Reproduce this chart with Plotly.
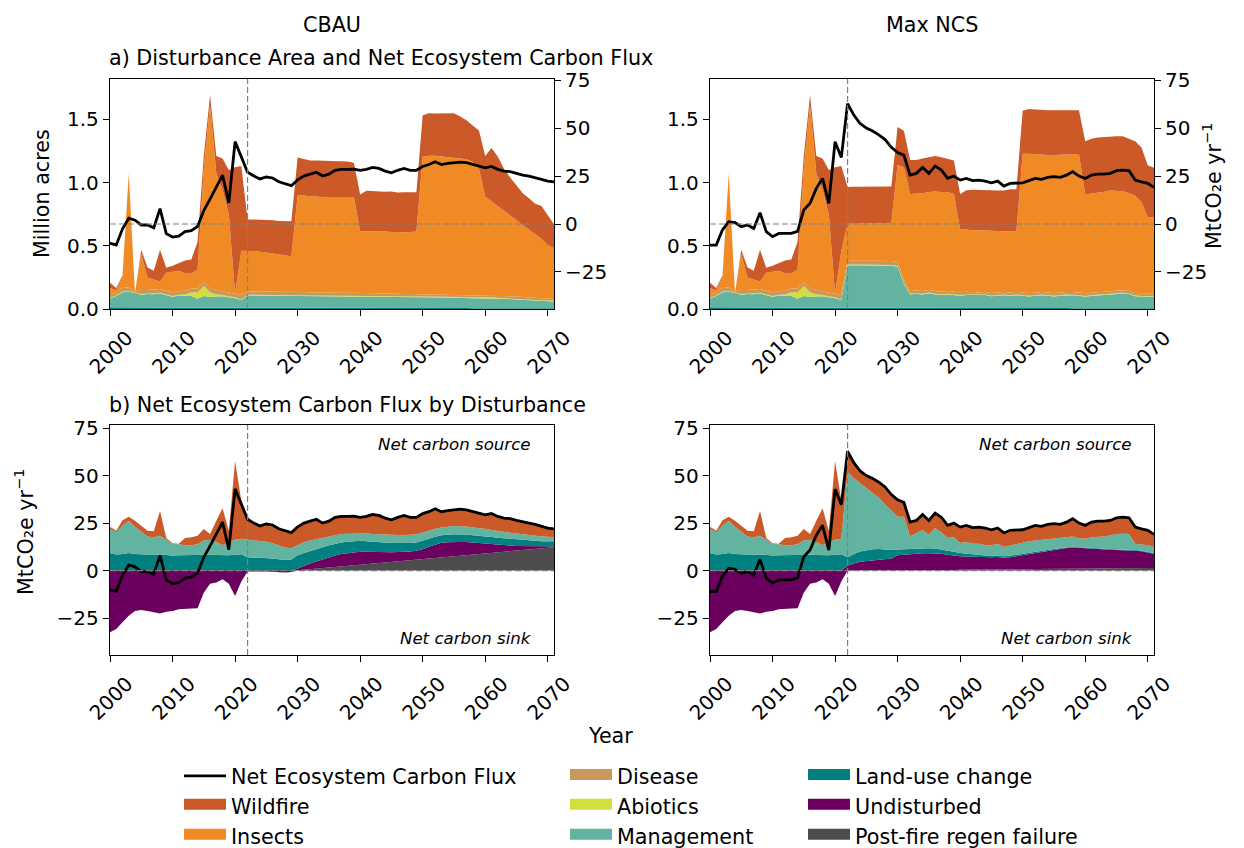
import numpy as np
import plotly.graph_objects as go

W, H = 1244, 848
YEARS = list(range(2000, 2072))

# ---------------- colours ----------------
C_FIRE = "#cb5a28"
C_INSECT = "#f08a24"
C_DISEASE = "#c8975a"
C_ABIO = "#d3df3c"
C_MGMT = "#62b4a1"
C_LUC = "#008080"
C_UNDIST = "#6b005f"
C_REGEN = "#4e4b4f"

# ---------------- (a) disturbance area, million acres ----------------
# historical 2000-2021 (shared by both scenarios)
hist_area_luc = [0.013, 0.012, 0.013, 0.012, 0.012, 0.012, 0.013, 0.012, 0.012, 0.012,
                 0.012, 0.011, 0.012, 0.012, 0.011, 0.012, 0.012, 0.011, 0.011, 0.012,
                 0.011, 0.011]
hist_area_mgmt = [0.070, 0.090, 0.120, 0.125, 0.115, 0.100, 0.105, 0.105, 0.110, 0.100,
                  0.085, 0.095, 0.090, 0.090, 0.070, 0.090, 0.085, 0.090, 0.090, 0.080,
                  0.075, 0.060]
hist_area_abio = [0.004, 0.004, 0.005, 0.005, 0.000, 0.006, 0.005, 0.005, 0.006, 0.005,
                  0.005, 0.006, 0.012, 0.030, 0.050, 0.080, 0.035, 0.015, 0.010, 0.008,
                  0.006, 0.005]
hist_area_disease = [0.030, 0.020, 0.030, 0.030, 0.000, 0.040, 0.035, 0.030, 0.030, 0.030,
                     0.030, 0.030, 0.030, 0.030, 0.030, 0.030, 0.030, 0.035, 0.030, 0.030,
                     0.030, 0.035]
hist_area_insects = [0.05, 0.02, 0.09, 0.90, 0.00, 0.28, 0.09, 0.08, 0.06, 0.14,
                     0.16, 0.16, 0.14, 0.12, 0.15, 0.90, 1.45, 0.92, 0.80, 0.62,
                     0.00, 0.35]
hist_area_fire = [0.04, 0.02, 0.01, 0.00, 0.00, 0.03, 0.08, 0.07, 0.25, 0.04,
                  0.05, 0.06, 0.10, 0.11, 0.22, 0.10, 0.08, 0.14, 0.25, 0.35,
                  1.00, 0.67]

# CBAU 2022-2071
cbau_area_luc = [0.009, 0.009, 0.009, 0.009, 0.009, 0.009, 0.009, 0.009,
                 0.009, 0.009, 0.008, 0.008, 0.008, 0.008, 0.008, 0.008, 0.008, 0.008,
                 0.008, 0.008, 0.008, 0.008, 0.008, 0.008, 0.007, 0.007, 0.007, 0.007,
                 0.007, 0.007, 0.007, 0.007, 0.007, 0.007, 0.007, 0.007, 0.006, 0.006,
                 0.006, 0.006, 0.006, 0.006, 0.006, 0.006, 0.006, 0.006, 0.006, 0.006,
                 0.006, 0.006]
cbau_area_mgmt = [0.098, 0.098, 0.097, 0.097, 0.097, 0.096, 0.096, 0.095,
                  0.094, 0.094, 0.093, 0.093, 0.092, 0.092, 0.091, 0.091, 0.090, 0.090,
                  0.089, 0.089, 0.089, 0.088, 0.088, 0.088, 0.087, 0.087, 0.087, 0.086,
                  0.086, 0.086, 0.085, 0.085, 0.085, 0.084, 0.084, 0.083, 0.083, 0.082,
                  0.081, 0.080, 0.078, 0.076, 0.073, 0.070, 0.067, 0.064, 0.061, 0.058,
                  0.056, 0.054]
cbau_area_abio = [0.006, 0.006, 0.006, 0.006, 0.006, 0.006, 0.006, 0.006,
                  0.006, 0.006, 0.006, 0.006, 0.006, 0.006, 0.006, 0.006, 0.006, 0.006,
                  0.006, 0.006, 0.005, 0.005, 0.005, 0.005, 0.005, 0.005, 0.005, 0.005,
                  0.005, 0.005, 0.005, 0.005, 0.005, 0.005, 0.005, 0.005, 0.005, 0.005,
                  0.005, 0.005, 0.005, 0.005, 0.005, 0.005, 0.005, 0.005, 0.005, 0.005,
                  0.005, 0.005]
cbau_area_disease = [0.026, 0.026, 0.026, 0.025, 0.025, 0.025, 0.025, 0.025,
                     0.025, 0.025, 0.024, 0.024, 0.024, 0.024, 0.024, 0.023, 0.023, 0.023,
                     0.023, 0.023, 0.022, 0.022, 0.022, 0.022, 0.021, 0.021, 0.021, 0.021,
                     0.021, 0.020, 0.020, 0.020, 0.020, 0.020, 0.019, 0.019, 0.019, 0.019,
                     0.018, 0.018, 0.018, 0.018, 0.017, 0.017, 0.017, 0.016, 0.016, 0.016,
                     0.015, 0.015]
cbau_area_insects = [0.32, 0.32, 0.315, 0.31, 0.305, 0.30, 0.29, 0.28,
                     0.765, 0.765, 0.76, 0.76, 0.755, 0.757, 0.758, 0.76, 0.76, 0.76,
                     0.49, 0.49, 0.49, 0.49, 0.49, 0.487, 0.487, 0.488, 0.49, 0.495,
                     1.085, 1.095, 1.095, 1.09, 1.085, 1.077, 1.078, 1.07, 1.05, 1.0,
                     0.78, 0.745, 0.71, 0.675, 0.64, 0.605, 0.57, 0.535, 0.505, 0.47,
                     0.425, 0.40]
cbau_area_fire = [0.25, 0.25, 0.255, 0.255, 0.26, 0.26, 0.27, 0.28,
                  0.30, 0.29, 0.285, 0.285, 0.29, 0.285, 0.285, 0.28, 0.28, 0.27,
                  0.29, 0.32, 0.32, 0.315, 0.315, 0.32, 0.315, 0.315, 0.315, 0.31,
                  0.33, 0.335, 0.335, 0.34, 0.345, 0.355, 0.33, 0.31, 0.29, 0.30,
                  0.32, 0.42, 0.39, 0.33, 0.30, 0.27, 0.25, 0.25, 0.24, 0.26,
                  0.23, 0.19]

# Max NCS 2022-2071
mncs_area_luc = [0.009, 0.009, 0.009, 0.009, 0.009, 0.009, 0.009, 0.009,
                 0.009, 0.009, 0.008, 0.008, 0.008, 0.008, 0.008, 0.008, 0.008, 0.008,
                 0.008, 0.008, 0.008, 0.008, 0.008, 0.008, 0.007, 0.007, 0.007, 0.007,
                 0.007, 0.007, 0.007, 0.007, 0.007, 0.007, 0.007, 0.007, 0.006, 0.006,
                 0.006, 0.006, 0.006, 0.006, 0.006, 0.006, 0.006, 0.006, 0.006, 0.006,
                 0.006, 0.006]
mncs_area_mgmt = [0.335, 0.337, 0.337, 0.336, 0.336, 0.335, 0.334, 0.333,
                  0.325, 0.190, 0.107, 0.112, 0.107, 0.117, 0.107, 0.102, 0.107, 0.102,
                  0.097, 0.102, 0.102, 0.097, 0.102, 0.092, 0.097, 0.102, 0.097, 0.102,
                  0.097, 0.092, 0.097, 0.102, 0.097, 0.092, 0.097, 0.102, 0.102, 0.097,
                  0.092, 0.097, 0.102, 0.107, 0.112, 0.117, 0.117, 0.112, 0.095, 0.092,
                  0.092, 0.092]
mncs_area_abio = [0.007, 0.007, 0.007, 0.007, 0.007, 0.007, 0.007, 0.007,
                  0.007, 0.007, 0.005, 0.005, 0.005, 0.005, 0.005, 0.005, 0.005, 0.005,
                  0.005, 0.005, 0.005, 0.005, 0.005, 0.005, 0.005, 0.005, 0.005, 0.005,
                  0.005, 0.005, 0.005, 0.005, 0.005, 0.005, 0.005, 0.005, 0.005, 0.005,
                  0.005, 0.005, 0.005, 0.005, 0.005, 0.005, 0.005, 0.005, 0.005, 0.005,
                  0.005, 0.005]
mncs_area_disease = [0.030, 0.030, 0.030, 0.030, 0.030, 0.030, 0.030, 0.030,
                     0.030, 0.030, 0.022, 0.022, 0.022, 0.022, 0.022, 0.022, 0.022, 0.022,
                     0.022, 0.022, 0.021, 0.021, 0.021, 0.021, 0.021, 0.021, 0.021, 0.021,
                     0.021, 0.021, 0.021, 0.021, 0.021, 0.021, 0.021, 0.021, 0.021, 0.021,
                     0.021, 0.021, 0.021, 0.021, 0.021, 0.021, 0.021, 0.021, 0.021, 0.021,
                     0.021, 0.021]
mncs_area_insects = [0.294, 0.294, 0.294, 0.295, 0.296, 0.297, 0.299, 0.301,
                     0.770, 0.885, 0.768, 0.763, 0.773, 0.773, 0.788, 0.788, 0.783, 0.773,
                     0.498, 0.493, 0.488, 0.493, 0.483, 0.493, 0.488, 0.481, 0.484, 0.483,
                     1.098, 1.103, 1.093, 1.088, 1.088, 1.093, 1.088, 1.088, 1.093, 1.098,
                     0.783, 0.783, 0.788, 0.788, 0.793, 0.788, 0.783, 0.773, 0.770, 0.723,
                     0.603, 0.603]
mncs_area_fire = [0.29, 0.29, 0.29, 0.291, 0.29, 0.29, 0.289, 0.289,
                  0.30, 0.29, 0.27, 0.27, 0.275, 0.275, 0.28, 0.275, 0.265, 0.265,
                  0.28, 0.31, 0.32, 0.32, 0.32, 0.32, 0.32, 0.322, 0.334, 0.33,
                  0.34, 0.355, 0.355, 0.35, 0.355, 0.355, 0.355, 0.35, 0.35, 0.345,
                  0.42, 0.435, 0.435, 0.435, 0.43, 0.43, 0.435, 0.43, 0.43, 0.43,
                  0.41, 0.39]

# ---------------- net ecosystem carbon flux, MtCO2e/yr ----------------
cbau_net = [-10.0, -11.0, -2.5, 3.0, 2.0, -0.5, -0.5, -2.0, 8.0, -5.0,
            -6.8, -6.3, -4.0, -3.5, -1.3, 7.0, 13.0, 19.0, 25.5, 11.0,
            43.0, 35.0,
            27.0, 25.0, 23.5, 24.5, 24.0, 22.0, 21.0, 20.0,
            23.0, 25.0, 26.0, 27.0, 25.0, 26.0, 28.0, 28.5, 28.5, 28.6,
            28.0, 28.5, 29.5, 29.0, 27.6, 26.7, 28.0, 29.0, 28.0, 28.0,
            30.0, 31.0, 32.5, 31.0, 31.6, 32.0, 32.3, 32.0, 31.0, 30.0,
            29.3, 30.0, 28.5, 27.6, 27.3, 26.4, 25.5, 25.0, 24.3, 23.3,
            22.4, 22.0]
mncs_net = [-11.0, -11.0, -3.0, 1.2, 0.7, -1.4, -0.5, -2.3, 5.9, -4.0,
            -6.6, -4.9, -4.9, -4.9, -3.8, 7.3, 10.8, 18.6, 23.8, 10.8,
            42.9, 34.7,
            62.8, 56.8, 52.4, 50.0, 48.5, 46.5, 44.0, 40.0,
            37.2, 35.9, 25.5, 26.4, 29.5, 26.4, 30.2, 28.1, 23.8, 25.0,
            22.9, 23.8, 22.6, 22.9, 22.4, 21.5, 22.4, 19.8, 21.2, 21.5,
            21.5, 22.6, 23.8, 23.3, 24.3, 24.7, 24.3, 25.5, 27.3, 25.0,
            23.8, 25.5, 26.0, 26.0, 26.4, 27.8, 28.1, 27.8, 22.9, 22.0,
            21.2, 19.1]

# ---------------- (b) flux by disturbance, MtCO2e/yr ----------------
hist_flux_regen = [0.0, 0.0, 0.0, 0.0, 0.0, 0.0, 0.0, 0.0, 0.0, 0.0,
                   0.0, 0.0, 0.0, 0.0, 0.0, 0.0, 0.0, 0.0, 0.0, 0.0,
                   0.0, 0.0]
hist_flux_undist = [-32.4, -30.7, -27.2, -23.8, -21.2, -20.7, -21.2, -22.1, -22.6, -21.7,
                    -21.2, -20.3, -20.0, -20.0, -19.8, -11.7, -6.9, -6.2, -4.5, -6.9,
                    -13.4, -5.7]
hist_flux_luc = [9.2, 8.5, 8.8, 9.2, 8.8, 8.6, 8.4, 8.3, 8.5, 8.2,
                 8.0, 8.1, 8.2, 8.3, 8.3, 8.5, 8.4, 8.2, 8.0, 8.1,
                 8.4, 8.6]
hist_flux_mgmt = [12.7, 11.7, 14.8, 17.0, 14.3, 12.1, 9.5, 9.3, 9.9, 8.0,
                  6.1, 5.7, 5.1, 5.0, 5.5, 7.4, 7.8, 6.8, 5.3, 6.9,
                  7.8, 8.1]
hist_flux_fire = [1.2, 0.8, 2.9, 2.1, 3.1, 2.9, 3.1, 3.1, 13.0, 1.0,
                  0.3, 0.3, 3.9, 4.3, 4.6, 6.0, 3.1, 11.2, 19.5, 6.0,
                  41.4, 19.9]

cbau_flux_regen = [0.0, 0.0, 0.0, 0.0, 0.0, 0.0, 0.0, 0.0,
                   0.2, 0.5, 0.8, 1.0, 1.3, 1.6, 2.0, 2.3, 2.5, 2.8,
                   3.2, 3.5, 3.7, 4.0, 4.4, 4.7, 5.0, 5.2, 5.5, 5.9,
                   6.2, 6.5, 6.8, 7.1, 7.3, 7.7, 8.0, 8.3, 8.5, 8.9,
                   9.2, 9.5, 9.7, 10.0, 10.4, 10.7, 11.0, 11.2, 11.5, 11.8,
                   12.1, 12.3]
cbau_flux_undist = [-0.5, -0.4, -0.4, -0.5, -0.6, -0.8, -1.0, -0.8,
                    0.9, 2.0, 3.0, 3.8, 4.6, 5.4, 6.0, 6.4, 6.7, 6.8,
                    6.7, 6.4, 6.1, 5.8, 5.4, 5.0, 4.8, 4.6, 4.5, 4.5,
                    5.0, 6.0, 7.0, 7.6, 7.6, 7.4, 7.1, 6.8, 6.3, 5.6,
                    4.9, 4.3, 3.8, 3.3, 2.8, 2.3, 1.9, 1.6, 1.2, 0.9,
                    0.7, 0.5]
cbau_flux_luc = [7.0, 6.9, 6.8, 6.6, 6.4, 6.0, 5.6, 5.8,
                 7.0, 6.8, 6.6, 6.5, 6.4, 6.3, 6.2, 6.1, 6.0, 5.9,
                 5.8, 5.6, 5.4, 5.2, 5.0, 4.8, 4.7, 4.6, 4.5, 4.4,
                 4.4, 4.2, 4.0, 3.9, 3.9, 4.0, 3.9, 3.9, 3.8, 3.9,
                 4.0, 3.9, 3.8, 3.7, 3.6, 3.5, 3.3, 3.1, 3.0, 2.8,
                 2.7, 2.6]
cbau_flux_mgmt = [9.1, 9.0, 8.8, 8.6, 8.0, 7.3, 6.6, 6.0,
                  5.3, 5.6, 5.5, 5.3, 5.1, 4.8, 4.6, 4.4, 4.2, 4.0,
                  3.9, 4.0, 4.1, 4.1, 4.1, 4.1, 4.2, 4.2, 4.2, 4.3,
                  4.3, 4.3, 4.2, 4.1, 4.2, 4.4, 4.3, 4.2, 4.1, 4.0,
                  3.9, 3.7, 3.5, 3.3, 3.1, 3.0, 2.8, 2.7, 2.6, 2.5,
                  2.4, 2.3]
cbau_flux_fire = [10.9, 9.1, 7.9, 9.3, 9.6, 8.7, 8.8, 8.2,
                  9.6, 10.1, 10.1, 10.4, 7.6, 7.9, 9.2, 9.3, 9.1, 9.1,
                  8.4, 9.0, 10.2, 9.9, 8.7, 8.1, 9.3, 10.4, 9.3, 8.9,
                  10.1, 10.0, 10.5, 8.3, 8.6, 8.5, 9.0, 8.8, 8.3, 7.6,
                  7.3, 8.6, 7.7, 7.3, 7.4, 6.9, 6.5, 6.4, 6.0, 5.3,
                  4.5, 4.3]

mncs_flux_regen = [0.0, 0.0, 0.0, 0.0, 0.0, 0.0, 0.0, 0.0,
                   0.05, 0.1, 0.1, 0.15, 0.2, 0.2, 0.25, 0.3, 0.3, 0.35,
                   0.4, 0.4, 0.45, 0.5, 0.5, 0.55, 0.6, 0.6, 0.65, 0.7,
                   0.7, 0.75, 0.8, 0.8, 0.85, 0.9, 0.9, 0.95, 1.0, 1.0,
                   1.05, 1.1, 1.1, 1.15, 1.2, 1.2, 1.25, 1.3, 1.3, 1.35,
                   1.4, 1.4]
mncs_flux_undist = [2.5, 3.8, 4.6, 5.0, 5.2, 5.5, 5.9, 6.4,
                    8.0, 8.3, 8.5, 8.6, 8.9, 8.9, 8.9, 8.6, 8.0, 7.5,
                    7.1, 7.0, 6.8, 6.6, 6.5, 6.5, 6.6, 6.2, 6.4, 6.9,
                    7.6, 8.2, 8.8, 9.3, 9.7, 10.1, 10.5, 10.9, 11.2, 11.0,
                    10.7, 10.3, 10.2, 10.0, 9.8, 9.6, 9.5, 9.4, 9.2, 8.8,
                    8.3, 7.5]
mncs_flux_luc = [4.5, 5.0, 5.5, 5.8, 6.0, 5.8, 5.2, 4.4,
                 3.0, 2.8, 2.6, 2.8, 2.7, 2.6, 2.5, 2.3, 2.1, 2.1,
                 1.8, 1.5, 1.3, 1.1, 1.0, 0.9, 0.8, 0.8, 0.7, 0.7,
                 0.6, 0.5, 0.5, 0.4, 0.4, 0.4, 0.4, 0.4, 0.3, 0.3,
                 0.3, 0.3, 0.3, 0.3, 0.3, 0.3, 0.3, 0.3, 0.3, 0.3,
                 0.3, 0.3]
mncs_flux_mgmt = [45.0, 39.8, 35.9, 32.6, 29.7, 27.0, 23.7, 20.6,
                  17.3, 17.1, 6.7, 8.2, 9.6, 7.3, 10.8, 9.0, 6.8, 7.6,
                  5.2, 6.1, 5.6, 5.9, 5.3, 5.4, 6.1, 4.8, 5.5, 5.5,
                  6.1, 6.0, 5.8, 5.7, 5.5, 5.3, 5.2, 5.2, 5.4, 4.7,
                  4.7, 5.9, 6.1, 6.5, 7.2, 8.2, 8.3, 8.3, 3.3, 3.4,
                  3.3, 3.2]
mncs_flux_fire = [10.8, 8.2, 6.4, 6.6, 7.6, 8.2, 9.2, 8.6,
                  8.9, 7.6, 7.6, 6.7, 8.1, 7.4, 7.8, 7.9, 6.6, 7.4,
                  8.4, 8.8, 8.5, 8.8, 9.1, 8.2, 8.3, 7.4, 7.9, 7.7,
                  6.5, 7.1, 7.9, 7.1, 7.9, 8.0, 7.3, 8.1, 9.4, 8.0,
                  7.1, 7.9, 8.3, 8.1, 7.9, 8.5, 8.8, 8.5, 8.8, 8.2,
                  7.9, 6.7]

XTICKS = [2000, 2010, 2020, 2030, 2040, 2050, 2060, 2070]
AREA_TICKS = [0.0, 0.5, 1.0, 1.5]
FLUX_TICKS = [-25, 0, 25, 50, 75]

# legend entries: (label, colour, legend column, rank)
LEGEND_PATCHES = [("Wildfire", C_FIRE, "legend", 2), ("Insects", C_INSECT, "legend", 3),
                  ("Disease", C_DISEASE, "legend2", 1), ("Abiotics", C_ABIO, "legend2", 2),
                  ("Management", C_MGMT, "legend2", 3), ("Land-use change", C_LUC, "legend3", 1),
                  ("Undisturbed", C_UNDIST, "legend3", 2),
                  ("Post-fire regen failure", C_REGEN, "legend3", 3)]

FONT = "DejaVu Sans"
FS = 20
FS_TXT = 20.7

scen = {
    "cbau": dict(
        area=[("Land-use change", hist_area_luc + cbau_area_luc, C_LUC),
              ("Management", hist_area_mgmt + cbau_area_mgmt, C_MGMT),
              ("Abiotics", hist_area_abio + cbau_area_abio, C_ABIO),
              ("Disease", hist_area_disease + cbau_area_disease, C_DISEASE),
              ("Insects", hist_area_insects + cbau_area_insects, C_INSECT),
              ("Wildfire", hist_area_fire + cbau_area_fire, C_FIRE)],
        net=cbau_net,
        regen=hist_flux_regen + cbau_flux_regen,
        undist=hist_flux_undist + cbau_flux_undist,
        luc=hist_flux_luc + cbau_flux_luc,
        mgmt=hist_flux_mgmt + cbau_flux_mgmt,
        fire=hist_flux_fire + cbau_flux_fire),
    "mncs": dict(
        area=[("Land-use change", hist_area_luc + mncs_area_luc, C_LUC),
              ("Management", hist_area_mgmt + mncs_area_mgmt, C_MGMT),
              ("Abiotics", hist_area_abio + mncs_area_abio, C_ABIO),
              ("Disease", hist_area_disease + mncs_area_disease, C_DISEASE),
              ("Insects", hist_area_insects + mncs_area_insects, C_INSECT),
              ("Wildfire", hist_area_fire + mncs_area_fire, C_FIRE)],
        net=mncs_net,
        regen=hist_flux_regen + mncs_flux_regen,
        undist=hist_flux_undist + mncs_flux_undist,
        luc=hist_flux_luc + mncs_flux_luc,
        mgmt=hist_flux_mgmt + mncs_flux_mgmt,
        fire=hist_flux_fire + mncs_flux_fire),
}

fig = go.Figure()

panels = {
    "cbau": dict(xt="x", yt="y", yt2="y2", xb="x3", yb="y5"),
    "mncs": dict(xt="x2", yt="y3", yt2="y4", xb="x4", yb="y6"),
}

for key, d in scen.items():
    p = panels[key]
    first = key == "cbau"
    # top: stacked disturbance area
    for name, vals, col in d["area"]:
        fig.add_trace(go.Scatter(
            x=YEARS, y=vals, name=name, mode="lines", stackgroup="a" + key,
            line=dict(width=0, color=col), fillcolor=col,
            xaxis=p["xt"], yaxis=p["yt"], showlegend=False, hoverinfo="skip"))
    fig.add_trace(go.Scatter(
        x=YEARS, y=d["net"], name="Net Ecosystem Carbon Flux", mode="lines",
        line=dict(color="black", width=2.8), xaxis=p["xt"], yaxis=p["yt2"],
        showlegend=first, legend="legend", legendrank=1, hoverinfo="skip"))

    # bottom: flux by disturbance
    u = np.array(d["undist"], dtype=float)
    u_pos = np.clip(u, 0, None)
    u_neg = np.clip(u, None, 0)
    fig.add_trace(go.Scatter(
        x=YEARS, y=u_neg, name="Undisturbed", mode="lines", fill="tozeroy",
        line=dict(width=0, color=C_UNDIST), fillcolor=C_UNDIST,
        xaxis=p["xb"], yaxis=p["yb"], showlegend=False, hoverinfo="skip"))
    pos_layers = [("Post-fire regen failure", d["regen"], C_REGEN),
                  ("Undisturbed", u_pos, C_UNDIST),
                  ("Land-use change", d["luc"], C_LUC),
                  ("Management", d["mgmt"], C_MGMT),
                  ("Wildfire", d["fire"], C_FIRE)]
    for name, vals, col in pos_layers:
        fig.add_trace(go.Scatter(
            x=YEARS, y=vals, name=name, mode="lines", stackgroup="b" + key,
            line=dict(width=0, color=col), fillcolor=col,
            xaxis=p["xb"], yaxis=p["yb"], showlegend=False, hoverinfo="skip"))
    fig.add_trace(go.Scatter(
        x=YEARS, y=d["net"], name="Net Ecosystem Carbon Flux", mode="lines",
        line=dict(color="black", width=2.8), xaxis=p["xb"], yaxis=p["yb"],
        showlegend=False, hoverinfo="skip"))

# legend-only patch entries (no data, so nothing is drawn in the panels)
for name, col, lg, rank in LEGEND_PATCHES:
    fig.add_trace(go.Scatter(
        x=[None], y=[None], name=name, mode="lines", fill="toself",
        line=dict(width=10, color=col), fillcolor=col,
        xaxis="x", yaxis="y", showlegend=True, legend=lg, legendrank=rank,
        hoverinfo="skip"))

# ---------------- layout ----------------
def px_x(v):
    return v / W


def px_y(v):
    return 1 - v / H


XL = [px_x(110), px_x(554)]
XR = [px_x(710), px_x(1154)]
YT = [px_y(309), px_y(79)]
YB = [px_y(655), px_y(425)]

axis_common = dict(showline=True, linecolor="black", linewidth=1.4, mirror=True,
                   ticks="outside", ticklen=6, tickwidth=1.4, tickcolor="black",
                   showgrid=False, zeroline=False, automargin=False,
                   tickfont=dict(family=FONT, size=FS, color="black"))
xcommon = dict(axis_common, range=[2000, 2071], tickvals=XTICKS, tickangle=-45,
               ticklabelshift=17, ticklabelstandoff=2)

fig.update_layout(
    template="none",
    xaxis=dict(xcommon, domain=XL, anchor="y"),
    yaxis=dict(axis_common, domain=YT, anchor="x", range=[0, 1.82],
               tickvals=AREA_TICKS, tickformat=".1f"),
    yaxis2=dict(axis_common, overlaying="y", side="right", anchor="x",
                range=[-44.3, 75.6], tickvals=FLUX_TICKS, showline=False),
    xaxis2=dict(xcommon, domain=XR, anchor="y3"),
    yaxis3=dict(axis_common, domain=YT, anchor="x2", range=[0, 1.82],
                tickvals=AREA_TICKS, tickformat=".1f"),
    yaxis4=dict(axis_common, overlaying="y3", side="right", anchor="x2",
                range=[-44.3, 75.6], tickvals=FLUX_TICKS, showline=False),
    xaxis3=dict(xcommon, domain=XL, anchor="y5"),
    yaxis5=dict(axis_common, domain=YB, anchor="x3", range=[-44.4, 76.6],
                tickvals=FLUX_TICKS),
    xaxis4=dict(xcommon, domain=XR, anchor="y6"),
    yaxis6=dict(axis_common, domain=YB, anchor="x4", range=[-44.4, 76.6],
                tickvals=FLUX_TICKS),
)

dash = dict(color="#808080", width=1.2, dash="6px,3px")
shapes = []
for xa, ydom, yflux in [("x", "y", "y2"), ("x2", "y3", "y4"), ("x3", "y5", "y5"), ("x4", "y6", "y6")]:
    shapes.append(dict(type="line", xref=xa, yref=ydom + " domain", x0=2022, x1=2022,
                       y0=0, y1=1, line=dash, layer="above"))
    shapes.append(dict(type="line", xref=xa + " domain", yref=yflux, x0=0, x1=1,
                       y0=0, y1=0, line=dash, layer="above"))
fig.update_layout(shapes=shapes)


def ann(text, x, y, size=FS_TXT, xanchor="center", angle=0, italic=False):
    if italic:
        text = "<i>" + text + "</i>"
    return dict(text=text, x=px_x(x), y=px_y(y), xref="paper", yref="paper",
                xanchor=xanchor, yanchor="middle", showarrow=False, textangle=angle,
                font=dict(family=FONT, size=size, color="black"))


UNIT = "MtCO₂e yr<sup>−1</sup>"
fig.update_layout(annotations=[
    ann("CBAU", 332, 25),
    ann("Max NCS", 932, 25),
    ann("a) Disturbance Area and Net Ecosystem Carbon Flux", 107, 58, xanchor="left"),
    ann("b) Net Ecosystem Carbon Flux by Disturbance", 107, 405, xanchor="left"),
    ann("Million acres", 42, 194, angle=-90),
    ann(UNIT, 1213, 186, angle=-90),
    ann(UNIT, 24, 532, angle=-90),
    ann("Year", 610, 736),
    ann("Net carbon source", 532, 444, size=16.6, xanchor="right", italic=True),
    ann("Net carbon source", 1133, 444, size=16.6, xanchor="right", italic=True),
    ann("Net carbon sink", 534, 638, size=16.6, xanchor="right", italic=True),
    ann("Net carbon sink", 1135, 638, size=16.6, xanchor="right", italic=True),
])

leg_common = dict(orientation="v", yanchor="top", xanchor="left", y=px_y(756),
                  bgcolor="rgba(0,0,0,0)", borderwidth=0, traceorder="normal",
                  itemwidth=42, font=dict(family=FONT, size=FS_TXT, color="black"))
fig.update_layout(
    legend=dict(leg_common, x=px_x(179)),
    legend2=dict(leg_common, x=px_x(565)),
    legend3=dict(leg_common, x=px_x(803)),
    width=W, height=H, margin=dict(l=0, r=0, t=0, b=0, pad=0, autoexpand=False),
    paper_bgcolor="white", plot_bgcolor="white",
    font=dict(family=FONT, size=FS, color="black"),
    showlegend=True,
)

fig.write_html("out.html", config={"displayModeBar": False},
               post_script="document.body.style.margin='0px';")
